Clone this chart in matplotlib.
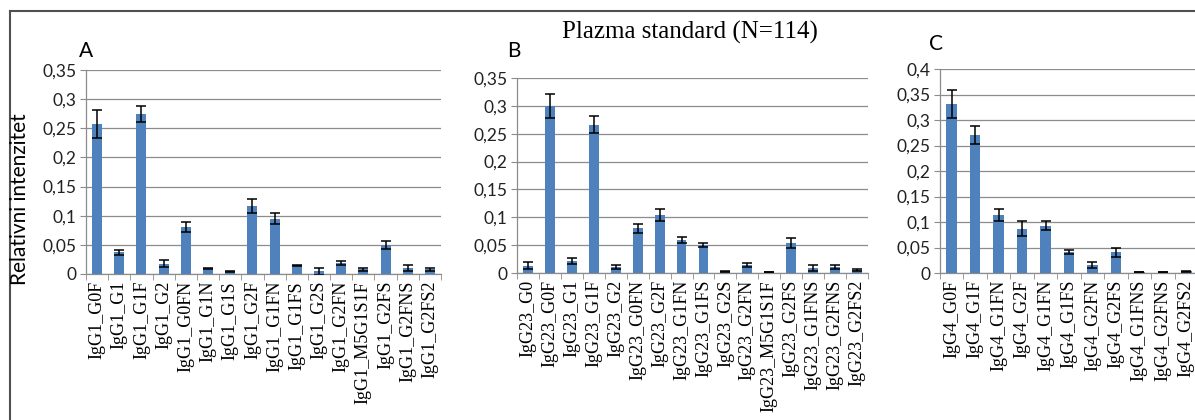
import numpy as np
import matplotlib.pyplot as plt
from matplotlib.lines import Line2D
from matplotlib.ticker import FuncFormatter

# IgG1
a_labels = ["IgG1_G0F", "IgG1_G1", "IgG1_G1F", "IgG1_G2", "IgG1_G0FN", "IgG1_G1N",
            "IgG1_G1S", "IgG1_G2F", "IgG1_G1FN", "IgG1_G1FS", "IgG1_G2S", "IgG1_G2FN",
            "IgG1_M5G1S1F", "IgG1_G2FS", "IgG1_G2FNS", "IgG1_G2FS2"]
a_vals = [0.258, 0.037, 0.274, 0.018, 0.081, 0.009, 0.004, 0.116, 0.095, 0.015,
          0.005, 0.019, 0.008, 0.050, 0.011, 0.008]
a_err = [0.024, 0.005, 0.014, 0.006, 0.009, 0.001, 0.001, 0.012, 0.009, 0.001,
         0.006, 0.003, 0.002, 0.007, 0.005, 0.002]

# IgG2/3
b_labels = ["IgG23_G0", "IgG23_G0F", "IgG23_G1", "IgG23_G1F", "IgG23_G2", "IgG23_G0FN",
            "IgG23_G2F", "IgG23_G1FN", "IgG23_G1FS", "IgG23_G2S", "IgG23_G2FN",
            "IgG23_M5G1S1F", "IgG23_G2FS", "IgG23_G1FNS", "IgG23_G2FNS", "IgG23_G2FS2"]
b_vals = [0.013, 0.300, 0.022, 0.266, 0.011, 0.080, 0.104, 0.059, 0.050, 0.003,
          0.014, 0.002, 0.053, 0.009, 0.011, 0.006]
b_err = [0.006, 0.022, 0.0055, 0.015, 0.0035, 0.008, 0.010, 0.006, 0.004, 0.0005,
         0.004, 0.0005, 0.009, 0.006, 0.003, 0.002]

# IgG4
c_labels = ["IgG4_G0F", "IgG4_G1F", "IgG4_G1FN", "IgG4_G2F", "IgG4_G1FN", "IgG4_G1FS",
            "IgG4_G2FN", "IgG4_G2FS", "IgG4_G1FNS", "IgG4_G2FNS", "IgG4_G2FS2"]
c_vals = [0.331, 0.271, 0.113, 0.087, 0.093, 0.041, 0.015, 0.041, 0.0015, 0.002, 0.003]
c_err = [0.027, 0.018, 0.012, 0.014, 0.008, 0.0045, 0.006, 0.009, 0.0003, 0.0005, 0.0005]

BLUE = "#4F81BD"
GRID = "#8c8c8c"
W, H = 1195, 420

fig = plt.figure(figsize=(W / 100, H / 100), dpi=100)

# outer frame (left and top edges visible)
fig.add_artist(Line2D([10 / W, 10 / W], [0, 1 - 11 / H], transform=fig.transFigure,
                      color="#505050", lw=1.5))
fig.add_artist(Line2D([10 / W, 1], [1 - 11 / H, 1 - 11 / H], transform=fig.transFigure,
                      color="#505050", lw=1.5))

comma = FuncFormatter(lambda v, p: "0" if v == 0 else f"{v:g}".replace(".", ","))


def panel(rect, labels, vals, err, ymax, letter, letter_xy):
    ax = fig.add_axes(rect)
    x = np.arange(len(labels))
    ax.bar(x, vals, width=0.45, color=BLUE, zorder=3)
    ax.errorbar(x, vals, yerr=err, fmt="none", ecolor="black", elinewidth=1.1,
                capsize=3.5, capthick=1.1, zorder=4)
    ax.set_xlim(-0.5, len(labels) - 0.5)
    ax.set_ylim(0, ymax)
    ax.set_yticks(np.arange(0, ymax + 0.001, 0.05))
    ax.yaxis.set_major_formatter(comma)
    ax.grid(axis="y", color=GRID, lw=0.9, zorder=0)
    ax.set_xticks(x)
    ax.set_xticklabels(labels, rotation=90, family="Liberation Serif", fontsize=13)
    ax.set_xticks(np.arange(-0.5, len(labels)), minor=True)
    ax.tick_params(axis="x", which="major", length=0, pad=5)
    ax.tick_params(axis="x", which="minor", length=4, color=GRID, direction="out")
    ax.tick_params(axis="y", length=4, color=GRID, labelsize=12.5, pad=3,
                   labelcolor="#222222")
    for lab in ax.get_yticklabels():
        lab.set_family("Lato")
    for s in ["top", "right"]:
        ax.spines[s].set_visible(False)
    for s in ["left", "bottom"]:
        ax.spines[s].set_color(GRID)
        ax.spines[s].set_linewidth(0.9)
    fig.text(letter_xy[0] / W, 1 - letter_xy[1] / H, letter, family="Lato",
             fontsize=15, va="center", ha="left")
    return ax


ax_a = panel([86 / W, 1 - 274 / H, 355 / W, 204 / H], a_labels, a_vals, a_err, 0.35,
             "A", (79, 51))
ax_b = panel([517 / W, 1 - 273 / H, 351 / W, 195 / H], b_labels, b_vals, b_err, 0.35,
             "B", (507, 51))
ax_c = panel([940 / W, 1 - 273 / H, 258 / W, 204 / H], c_labels, c_vals, c_err, 0.4,
             "C", (929, 44))

fig.text(20 / W, 1 - 199 / H, "Relativni intenzitet", rotation=90, family="Lato",
         fontsize=15, va="center", ha="center")
fig.text(690 / W, 1 - 32 / H, "Plazma standard (N=114)", family="Liberation Serif",
         fontsize=18, va="center", ha="center")

fig.savefig("out.png", dpi=100)
